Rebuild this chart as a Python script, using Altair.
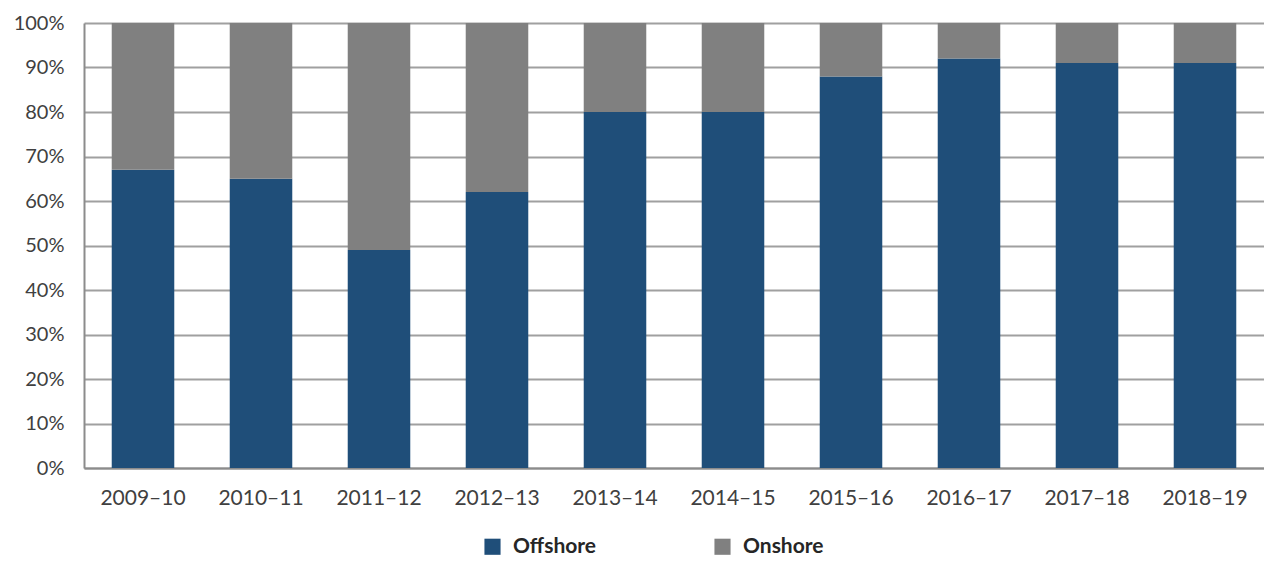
import altair as alt
import pandas as pd

years = ["2009–10", "2010–11", "2011–12", "2012–13", "2013–14",
         "2014–15", "2015–16", "2016–17", "2017–18", "2018–19"]
offshore = [67, 65, 49, 62, 80, 80, 88, 92, 91, 91]
onshore = [100 - v for v in offshore]
series = ["Offshore", "Onshore"]
colors = ["#1F4E79", "#808080"]

rows = []
for y, a, b in zip(years, offshore, onshore):
    rows.append({"year": y, "type": "Offshore", "value": a, "ord": 0})
    rows.append({"year": y, "type": "Onshore", "value": b, "ord": 1})
df = pd.DataFrame(rows)

FONT = "Lato"

chart = alt.Chart(df).mark_bar().encode(
    x=alt.X("year:N", sort=years, title=None,
            scale=alt.Scale(paddingInner=0.47, paddingOuter=0.235),
            axis=alt.Axis(labelAngle=0, labelFontSize=21, labelColor="#404040",
                          labelFont=FONT, labelPadding=19, ticks=False,
                          domainColor="#8C8C8C", domainWidth=2)),
    y=alt.Y("value:Q", stack="normalize", title=None,
            scale=alt.Scale(domain=[0, 1]),
            axis=alt.Axis(format="%", values=[i / 10 for i in range(11)],
                          labelFontSize=20, labelColor="#404040", labelFont=FONT,
                          labelPadding=20, ticks=False, grid=True,
                          gridColor="#A0A0A0", gridWidth=2,
                          domainColor="#8C8C8C", domainWidth=2)),
    color=alt.Color("type:N", sort=series,
                    scale=alt.Scale(domain=series, range=colors),
                    legend=alt.Legend(title=None, orient="none", direction="horizontal",
                                      legendX=398, legendY=513,
                                      symbolType="square", symbolSize=260,
                                      symbolStrokeWidth=0, symbolOpacity=1,
                                      labelFontSize=21, labelFontWeight="bold",
                                      labelColor="#262626", labelFont=FONT,
                                      labelOffset=10, columnPadding=115)),
    order=alt.Order("ord:Q", sort="ascending"),
).properties(
    width=1180, height=445,
    autosize=alt.AutoSizeParams(type="none"),
    padding={"left": 76, "top": 15, "right": 0, "bottom": 92},
).configure_view(stroke=None)

chart.save("out.html", embed_options={"renderer": "svg", "actions": False})
